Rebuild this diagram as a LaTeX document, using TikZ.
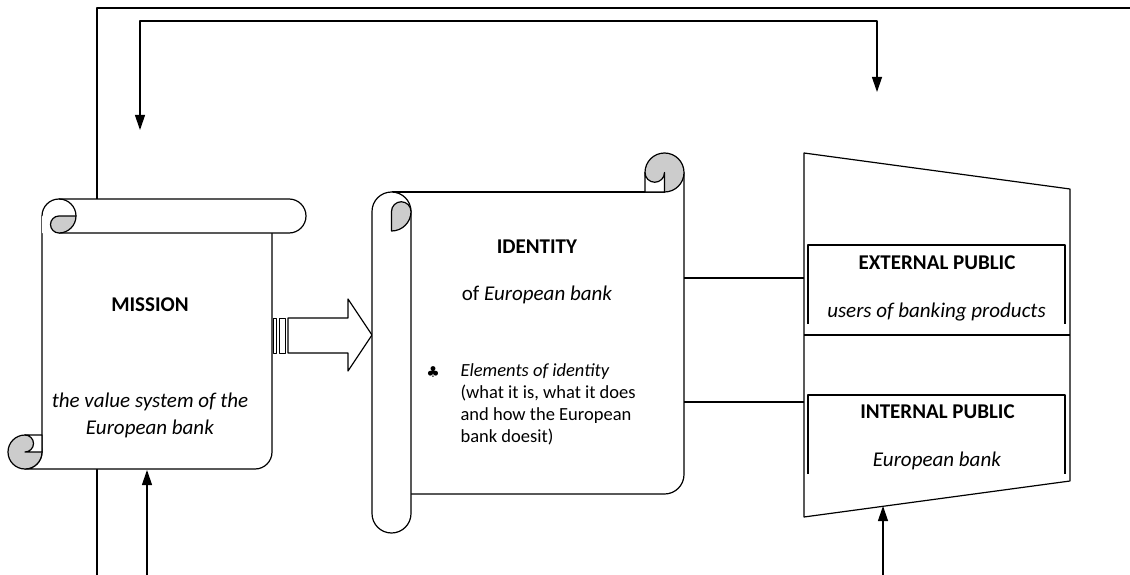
\documentclass[tikz,border=0pt]{standalone}
\usepackage{fontspec}
\setmainfont{Carlito}
\newfontfamily\symbolfont{DejaVu Sans}
\usetikzlibrary{arrows.meta}
\definecolor{curlgray}{HTML}{CCCCCC}
\begin{document}
\begin{tikzpicture}[x=1pt,y=-1pt,
  line width=1.2pt, line join=round,
  arr/.style={-{Triangle[length=15pt,width=10pt]}},
  big/.style={inner sep=0pt, font=\fontsize{21}{25}\selectfont},
  small/.style={inner sep=0pt, anchor=base west, font=\fontsize{18.5}{22}\selectfont},
  curl/.style={fill=curlgray}]
\useasboundingbox (0,0) rectangle (1130,575);

% feedback frame and loop
\coordinate (frameB) at (97,575);
\coordinate (frameTL) at (97,8);
\coordinate (frameTR) at (1130,8);
\draw (frameB) -- (frameTL) -- (frameTR);
\coordinate (loopL) at (140,21);
\coordinate (loopR) at (877,21);
\coordinate (missionIn) at (140,130);
\coordinate (publicIn) at (877,92);
\draw[arr] (loopR) -- (loopL) -- (missionIn);
\draw[arr] (loopL) -- (loopR) -- (publicIn);

% ---------- MISSION: horizontal scroll ----------
\fill[white] (42,216) -- (42,452) arc[start angle=0,end angle=90,radius=17]
  -- (255,469) arc[start angle=90,end angle=0,radius=17] -- (272,216) -- cycle;
\draw (42,216) -- (42,452) arc[start angle=0,end angle=90,radius=17]
  -- (255,469) arc[start angle=90,end angle=0,radius=17] -- (272,233);
% bottom-left curl
\filldraw[curl] (25,452) circle[radius=17];
\filldraw[fill=white] (25,435) -- (42,435) -- (42,452) -- (25,452)
  arc[start angle=90,end angle=-90,radius=8.5] -- cycle;
% top roll
\fill[white] (42,233) -- (42,216) arc[start angle=180,end angle=270,radius=17]
  -- (289,199) arc[start angle=-90,end angle=90,radius=17] -- cycle;
\draw (42,216) arc[start angle=180,end angle=270,radius=17]
  -- (289,199) arc[start angle=-90,end angle=90,radius=17] -- (59,233);
\filldraw[curl] (59,216) arc[start angle=270,end angle=90,radius=8.5]
  arc[start angle=90,end angle=0,radius=17] -- cycle;
\draw (59,199) arc[start angle=-90,end angle=0,radius=17];

\node[big, anchor=base] (mtitle) at (150,311.5) {\textbf{MISSION}};
\node[big, anchor=base] (mline1) at (150,407.5) {\textit{the value system of the}};
\node[big, anchor=base] (mline2) at (150,434.5) {\textit{European bank}};

% ---------- striped arrow ----------
\filldraw[fill=white, line width=1pt] (273,318) rectangle (276,353);
\filldraw[fill=white, line width=1pt] (279,318) rectangle (285,353);
\filldraw[fill=white] (288,318) -- (348,318) -- (348,299) -- (372,335)
  -- (348,371) -- (348,353) -- (288,353) -- cycle;

% ---------- IDENTITY: vertical scroll ----------
\fill[white] (411,192) -- (684,192) -- (684,474.5)
  arc[start angle=0,end angle=90,radius=19.5] -- (411,494) -- cycle;
\draw (684,172.5) -- (684,474.5) arc[start angle=0,end angle=90,radius=19.5] -- (411,494);
\draw (391.5,192) -- (664.5,192);
% top-right curl
\filldraw[curl] (664.5,172.5) circle[radius=19.5];
\filldraw[fill=white] (645,172.5) -- (645,192) -- (664.5,192) -- (664.5,172.5)
  arc[start angle=0,end angle=180,radius=9.75] -- cycle;
% left roll
\filldraw[fill=white] (372,211.5) arc[start angle=180,end angle=360,radius=19.5]
  -- (411,513.5) arc[start angle=0,end angle=180,radius=19.5] -- cycle;
\filldraw[curl] (391.5,211.5) arc[start angle=180,end angle=360,radius=9.75]
  arc[start angle=0,end angle=90,radius=19.5] -- cycle;

\node[big, anchor=base] (ititle) at (537,253.3) {\textbf{IDENTITY}};
\node[big, anchor=base] (isub) at (537,300.5) {of \textit{European bank}};
\node[inner sep=0pt, anchor=base] (bullet) at (433,377) {\symbolfont\fontsize{15}{17}\selectfont ♣};
\node[small] (il1) at (460,376.7) {\textit{Elements of identity}};
\node[small] (il2) at (460,398.7) {(what it is, what it does};
\node[small] (il3) at (460,420.7) {and how the European};
\node[small] (il4) at (460,442.7) {bank doesit)};

% ---------- publics ----------
\filldraw[fill=white] (804,153) -- (1070,189) -- (1070,481) -- (804,517) -- cycle;
\draw (804,335) -- (1070,335);
\draw (808,324) -- (808,245) -- (1065,245) -- (1065,324);
\draw (808,474) -- (808,395) -- (1065,395) -- (1065,474);
\node[big, anchor=base] (ext) at (937,269.3) {\textbf{EXTERNAL PUBLIC}};
\node[big, anchor=base] (extsub) at (936.5,317) {\textit{users of banking products}};
\node[big, anchor=base] (int) at (937.5,418.3) {\textbf{INTERNAL PUBLIC}};
\node[big, anchor=base] (intsub) at (937,466) {\textit{European bank}};

% links identity -> publics
\coordinate (idR1) at (684,278);
\coordinate (idR2) at (684,402);
\coordinate (pubL1) at (804,278);
\coordinate (pubL2) at (804,402);
\draw (idR1) -- (pubL1);
\draw (idR2) -- (pubL2);

% feedback arrows from below
\coordinate (mBot) at (147,575);
\coordinate (mIn) at (147,470);
\coordinate (pBot) at (883,575);
\coordinate (pIn) at (883,506);
\draw[arr] (mBot) -- (mIn);
\draw[arr] (pBot) -- (pIn);
\end{tikzpicture}
\end{document}
